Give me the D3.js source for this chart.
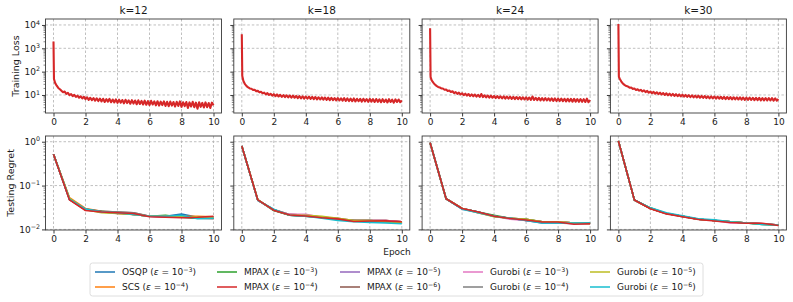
<!DOCTYPE html>
<html><head><meta charset="utf-8">
<script src="https://cdn.jsdelivr.net/npm/d3@7"></script>
<style>body{margin:0;background:#fff} svg{font-family:"DejaVu Sans",sans-serif}</style>
</head><body><svg id="c" width="793" height="302"></svg>
<script>
// ---------------- DATA ----------------
const kValues = [12, 18, 24, 30];
const methodNames = ["OSQP","SCS","MPAX","MPAX","MPAX","MPAX","Gurobi","Gurobi","Gurobi","Gurobi"];
const methodEps = [-3, -4, -3, -4, -5, -6, -3, -4, -5, -6];
const methodColors = ["#1f77b4","#ff7f0e","#2ca02c","#d62728","#9467bd","#8c564b","#e377c2","#7f7f7f","#bcbd22","#17becf"];
const epochs = [0,1,2,3,4,5,6,7,8,9,10];
const xTicks = [0,2,4,6,8,10];
const lossTicks = [10, 100, 1000, 10000];
const regretTicks = [0.01, 0.1, 1];

const lossEpochs = [0,0.03,0.1,0.2,0.3,0.4,0.5,0.6,0.7,0.8,0.9,1.0,1.1,1.2,1.3,1.4,1.5,1.6,1.7,1.8,1.9,
 2.0,2.1,2.2,2.3,2.4,2.5,2.6,2.7,2.8,2.9,3.0,3.1,3.2,3.3,3.4,3.5,3.6,3.7,3.8,3.9,
 4.0,4.1,4.2,4.3,4.4,4.5,4.6,4.7,4.8,4.9,5.0,5.1,5.2,5.3,5.4,5.5,5.6,5.7,5.8,5.9,
 6.0,6.1,6.2,6.3,6.4,6.5,6.6,6.7,6.8,6.9,7.0,7.1,7.2,7.3,7.4,7.5,7.6,7.7,7.8,7.9,
 8.0,8.1,8.2,8.3,8.4,8.5,8.6,8.7,8.8,8.9,9.0,9.1,9.2,9.3,9.4,9.5,9.6,9.7,9.8,9.9,10.0];

const lossK12 = [1950,48,33,25,20,17.5,15,13.2,14.0,11.2,12.4,9.8,11.0,8.9,10.1,8.2,9.3,7.6,8.8,7.1,8.4,
 6.6,8.0,6.2,7.6,6.0,7.4,5.7,7.2,5.5,7.0,5.3,6.9,5.0,6.6,5.2,6.8,4.9,6.4,4.8,6.5,
 4.6,6.3,4.7,6.1,4.4,6.2,4.5,5.9,4.2,6.0,4.3,5.8,4.0,5.9,4.1,5.6,3.9,5.7,3.8,5.5,
 3.7,5.6,3.9,5.3,3.6,5.4,3.5,5.2,3.7,5.3,3.4,5.1,3.3,5.2,3.5,5.0,3.2,5.1,3.4,5.3,
 3.1,4.9,3.3,5.0,2.8,4.8,3.2,5.1,3.0,4.7,2.6,4.9,3.1,4.6,2.9,4.8,3.0,4.5,2.8,4.7,3.6];
const lossK18 = [4000,65,40,29,24,21,19,18.5,16.5,16.8,14.6,15.0,13.0,13.6,11.8,12.6,10.6,12.0,10.0,11.3,9.4,
 10.8,8.9,10.5,8.6,10.2,8.3,9.9,8.1,9.7,7.9,9.5,7.7,9.3,7.6,9.1,7.3,8.9,7.2,8.8,7.0,
 8.6,6.9,8.5,6.8,8.3,6.6,8.2,6.5,8.0,6.4,7.9,6.3,7.8,6.2,7.7,6.0,7.6,6.0,7.4,5.9,
 7.4,5.8,7.2,5.7,7.3,5.6,7.1,5.5,7.0,5.4,7.1,5.3,6.9,5.4,6.8,5.2,6.9,5.3,6.7,5.1,
 6.8,5.2,6.6,5.0,6.7,5.1,6.5,4.9,6.6,5.0,6.4,4.8,6.6,5.0,6.3,4.7,6.5,5.0,6.4,4.9,5.9];
const lossK24 = [7200,59,42,34,28,24.5,22,21,19,19,16.8,17.2,14.8,15.6,13.4,14.4,12.0,13.3,11.2,12.6,10.5,
 11.8,9.8,11.4,9.4,11.0,9.0,10.6,8.8,10.4,8.5,10.1,8.3,11.0,8.1,9.7,7.9,9.5,7.7,9.3,7.6,
 9.1,7.4,9.0,7.3,8.8,7.1,8.7,7.0,8.6,6.9,8.5,6.8,8.3,6.7,8.2,6.6,8.1,6.5,8.0,6.4,
 7.9,6.3,7.8,6.2,8.6,6.1,7.6,6.0,7.5,5.9,7.4,5.8,7.3,5.8,7.2,5.7,7.2,5.6,7.1,5.5,
 7.0,5.5,7.0,5.4,6.9,5.3,6.9,5.3,6.8,5.2,6.8,5.2,6.7,5.1,6.7,5.1,6.6,5.0,7.0,4.9,6.1];
const lossK30 = [11000,60,47,36,30,26.5,24,23,20.5,20.8,18.3,18.8,16.4,17.6,15.4,16.6,14.2,15.7,13.3,14.9,12.5,
 14.1,11.9,13.5,11.3,13.0,10.9,12.5,10.5,12.1,10.0,11.8,9.7,11.4,9.4,11.1,9.1,10.8,8.9,10.5,8.7,
 10.3,8.5,10.0,8.3,9.8,8.1,9.6,7.9,9.4,7.8,9.3,7.6,9.1,7.5,9.0,7.4,8.8,7.2,8.7,7.1,
 8.6,7.0,8.5,6.9,8.4,6.8,8.3,6.7,8.2,6.6,8.1,6.5,8.0,6.5,7.9,6.4,7.9,6.3,7.8,6.2,
 7.7,6.2,7.7,6.1,7.6,6.0,7.5,6.0,7.5,5.9,7.4,5.9,7.4,5.8,7.3,5.8,7.3,5.7,7.2,5.7,6.7];
const lossByK = [lossK12, lossK18, lossK24, lossK30];
const lossMethodIndex = 3; // MPAX (eps=1e-4), drawn on top, hides the others

// testing regret per epoch, series in legend order
const regretK12 = [
 [0.52,0.049,0.029,0.025,0.024,0.022,0.020,0.020,0.0225,0.019,0.019],
 [0.52,0.053,0.030,0.026,0.023,0.022,0.020,0.020,0.020,0.020,0.0195],
 [0.52,0.050,0.028,0.026,0.024,0.022,0.020,0.021,0.019,0.018,0.018],
 [0.52,0.047,0.027,0.025,0.024,0.023,0.0195,0.019,0.0185,0.019,0.020],
 [0.52,0.048,0.028,0.025,0.023,0.023,0.020,0.019,0.019,0.019,0.019],
 [0.52,0.048,0.028,0.026,0.025,0.024,0.020,0.020,0.019,0.018,0.0175],
 [0.52,0.049,0.028,0.025,0.024,0.022,0.020,0.019,0.019,0.019,0.019],
 [0.52,0.048,0.029,0.026,0.025,0.024,0.020,0.020,0.020,0.019,0.018],
 [0.52,0.051,0.028,0.024,0.023,0.022,0.020,0.020,0.0195,0.0195,0.019],
 [0.52,0.049,0.029,0.025,0.024,0.022,0.020,0.020,0.021,0.0175,0.018]];
const regretK18 = [
 [0.80,0.046,0.028,0.021,0.021,0.019,0.017,0.016,0.015,0.015,0.0145],
 [0.80,0.047,0.028,0.022,0.021,0.019,0.017,0.016,0.016,0.016,0.015],
 [0.80,0.047,0.027,0.021,0.020,0.019,0.017,0.016,0.016,0.015,0.015],
 [0.80,0.047,0.0275,0.0213,0.0203,0.0185,0.0174,0.0152,0.0155,0.0157,0.0150],
 [0.80,0.046,0.028,0.022,0.021,0.019,0.017,0.016,0.016,0.016,0.015],
 [0.80,0.047,0.027,0.021,0.020,0.019,0.018,0.016,0.016,0.016,0.015],
 [0.80,0.046,0.028,0.022,0.022,0.019,0.017,0.016,0.016,0.016,0.015],
 [0.80,0.047,0.028,0.021,0.020,0.019,0.017,0.016,0.016,0.015,0.015],
 [0.80,0.047,0.028,0.021,0.021,0.020,0.018,0.016,0.016,0.015,0.0145],
 [0.80,0.046,0.029,0.021,0.020,0.018,0.016,0.015,0.0145,0.014,0.0135]];
const regretK24 = [
 [0.95,0.050,0.030,0.025,0.020,0.018,0.016,0.014,0.014,0.014,0.014],
 [0.95,0.050,0.030,0.024,0.020,0.018,0.017,0.015,0.015,0.014,0.014],
 [0.95,0.050,0.030,0.025,0.021,0.018,0.017,0.015,0.015,0.014,0.014],
 [0.95,0.050,0.030,0.025,0.020,0.0177,0.0164,0.0148,0.0148,0.0131,0.0135],
 [0.95,0.050,0.029,0.025,0.020,0.018,0.016,0.015,0.014,0.0135,0.0135],
 [0.95,0.050,0.030,0.025,0.020,0.018,0.016,0.015,0.015,0.014,0.014],
 [0.95,0.050,0.030,0.024,0.020,0.017,0.016,0.015,0.015,0.014,0.0135],
 [0.95,0.050,0.030,0.025,0.020,0.018,0.017,0.015,0.014,0.014,0.014],
 [0.95,0.050,0.030,0.024,0.0195,0.018,0.017,0.015,0.015,0.014,0.0135],
 [0.95,0.050,0.029,0.024,0.020,0.018,0.016,0.014,0.014,0.014,0.014]];
const regretK30 = [
 [1.04,0.047,0.030,0.023,0.020,0.017,0.016,0.015,0.014,0.013,0.0125],
 [1.04,0.047,0.030,0.023,0.020,0.017,0.016,0.015,0.014,0.0135,0.0125],
 [1.04,0.047,0.031,0.023,0.020,0.017,0.016,0.015,0.014,0.0135,0.0125],
 [1.04,0.047,0.0296,0.0226,0.0195,0.0169,0.0156,0.0144,0.0138,0.0138,0.0123],
 [1.04,0.047,0.030,0.023,0.020,0.017,0.016,0.015,0.014,0.0135,0.0125],
 [1.04,0.047,0.030,0.023,0.0195,0.017,0.016,0.015,0.014,0.0135,0.0125],
 [1.04,0.047,0.030,0.023,0.020,0.017,0.016,0.014,0.014,0.0135,0.0125],
 [1.04,0.047,0.030,0.023,0.020,0.017,0.016,0.015,0.014,0.0135,0.0125],
 [1.04,0.047,0.030,0.023,0.020,0.017,0.016,0.015,0.014,0.013,0.0125],
 [1.04,0.047,0.031,0.024,0.0205,0.0175,0.0165,0.015,0.014,0.013,0.0125]];
const regretByK = [regretK12, regretK18, regretK24, regretK30];

// ---------------- LAYOUT ----------------
const svg = d3.select("#c");
const panelW = 176, panelStep = 188.3, panelX0 = 45.5;
const rows = [{top: 19, bottom: 113, ylab: "Training Loss", labX: 19}, {top: 136, bottom: 230, ylab: "Testing Regret", labX: 14}];
const frameColor = "#3a3a3a", textColor = "#1a1a1a", tickFs = 9;
const drawOrder = [0,1,2,4,5,6,7,8,9,3];

const yLoss = d3.scaleLog().domain([1.69, 18000]).range([rows[0].bottom, rows[0].top]);
const yReg = d3.scaleLog().domain([0.0097, 1.35]).range([rows[1].bottom, rows[1].top]);

function minorTicks(domain) {
  const out = [];
  for (let e = -3; e <= 5; e++) for (let m = 2; m <= 9; m++) {
    const v = m * Math.pow(10, e);
    if (v >= domain[0] && v <= domain[1]) out.push(v);
  }
  return out;
}
function supLabel(sel, base, exp, fs) {
  sel.text(null);
  sel.append("tspan").text(base);
  sel.append("tspan").attr("font-size", fs * 0.7).attr("dy", -fs * 0.42).text(exp);
}

const defs = svg.append("defs");

kValues.forEach((k, pi) => {
  const left = panelX0 + pi * panelStep;
  const x = d3.scaleLinear().domain([-0.5, 10.5]).range([left, left + panelW]);
  [0, 1].forEach(ri => {
    const r = rows[ri];
    const y = ri === 0 ? yLoss : yReg;
    const g = svg.append("g");
    const cid = `clip${pi}_${ri}`;
    defs.append("clipPath").attr("id", cid).append("rect")
      .attr("x", left).attr("y", r.top).attr("width", panelW).attr("height", r.bottom - r.top);
    // grid
    const gg = g.append("g").attr("stroke", "#b0b0b0").attr("stroke-width", 0.8).attr("stroke-dasharray", "2.5,2");
    xTicks.forEach(t => gg.append("line").attr("x1", x(t)).attr("x2", x(t)).attr("y1", r.top).attr("y2", r.bottom));
    (ri === 0 ? lossTicks : regretTicks).forEach(t => gg.append("line").attr("x1", left).attr("x2", left + panelW).attr("y1", y(t)).attr("y2", y(t)));
    // data
    const lg = g.append("g").attr("clip-path", `url(#${cid})`);
    if (ri === 0) {
      const line = d3.line().x((d, i) => x(lossEpochs[i])).y(d => y(d));
      lg.append("path").datum(lossByK[pi]).attr("d", line).attr("fill", "none")
        .attr("stroke", methodColors[lossMethodIndex]).attr("stroke-width", 2.1).attr("stroke-linejoin", "round");
    } else {
      const line = d3.line().x((d, i) => x(epochs[i])).y(d => y(d));
      drawOrder.forEach(mi => {
        lg.append("path").datum(regretByK[pi][mi]).attr("d", line).attr("fill", "none")
          .attr("stroke", methodColors[mi]).attr("stroke-width", 1.6).attr("stroke-linejoin", "round");
      });
    }
    // frame
    g.append("rect").attr("x", left).attr("y", r.top).attr("width", panelW).attr("height", r.bottom - r.top)
      .attr("fill", "none").attr("stroke", frameColor).attr("stroke-width", 0.9);
    // x axis
    const xa = g.append("g").attr("transform", `translate(0,${r.bottom})`)
      .call(d3.axisBottom(x).tickValues(xTicks).tickSize(3.5).tickPadding(2).tickFormat(d3.format("d")));
    xa.select(".domain").remove();
    xa.selectAll("line").attr("stroke", frameColor);
    xa.selectAll("text").attr("font-size", tickFs).attr("fill", textColor).attr("font-family", "DejaVu Sans");
    // y axis major + minor
    const majors = ri === 0 ? lossTicks : regretTicks;
    const ya = g.append("g").attr("transform", `translate(${left},0)`)
      .call(d3.axisLeft(y).tickValues(majors).tickSize(3.5).tickPadding(2));
    ya.select(".domain").remove();
    ya.selectAll("line").attr("stroke", frameColor);
    if (pi === 0) {
      ya.selectAll("text").attr("font-size", tickFs).attr("fill", textColor).attr("font-family", "DejaVu Sans")
        .each(function(d) {
          const e = Math.round(Math.log10(d));
          supLabel(d3.select(this), "10", (e < 0 ? "\u2212" : "") + Math.abs(e), tickFs);
        });
    } else {
      ya.selectAll("text").remove();
    }
    const ym = g.append("g").attr("transform", `translate(${left},0)`)
      .call(d3.axisLeft(y).tickValues(minorTicks(y.domain())).tickSize(2).tickFormat(""));
    ym.select(".domain").remove();
    ym.selectAll("line").attr("stroke", frameColor).attr("stroke-width", 0.6);
  });
  // title
  svg.append("text").attr("x", left + panelW / 2).attr("y", 14).attr("text-anchor", "middle")
    .attr("font-size", 10.5).attr("fill", textColor).text(`k=${k}`);
});

// axis labels
rows.forEach(r => {
  svg.append("text").attr("transform", `translate(${r.labX},${(r.top + r.bottom) / 2}) rotate(-90)`)
    .attr("text-anchor", "middle").attr("font-size", 9.5).attr("fill", textColor).text(r.ylab);
});
svg.append("text").attr("x", 397).attr("y", 255).attr("text-anchor", "middle")
  .attr("font-size", 9).attr("fill", textColor).text("Epoch");

// legend
const leg = svg.append("g");
leg.append("rect").attr("x", 90).attr("y", 263).attr("width", 613).attr("height", 33).attr("rx", 2.5)
  .attr("fill", "#fff").attr("stroke", "#d5d5d5").attr("stroke-width", 0.8);
const colX = [95, 217, 340, 463, 590], rowY = [272, 287];
methodNames.forEach((name, i) => {
  const cx = colX[Math.floor(i / 2)], cy = rowY[i % 2];
  leg.append("line").attr("x1", cx).attr("x2", cx + 20).attr("y1", cy).attr("y2", cy)
    .attr("stroke", methodColors[i]).attr("stroke-width", 1.5);
  const t = leg.append("text").attr("x", cx + 27).attr("y", cy + 3.3).attr("font-size", 9).attr("fill", textColor);
  t.append("tspan").text(name + " (");
  t.append("tspan").attr("font-style", "italic").text("\u03b5");
  t.append("tspan").text(" = 10");
  t.append("tspan").attr("font-size", 6.3).attr("dy", -3.8).text("\u2212" + Math.abs(methodEps[i]));
  t.append("tspan").attr("dy", 3.8).text(")");
});
</script></body></html>
